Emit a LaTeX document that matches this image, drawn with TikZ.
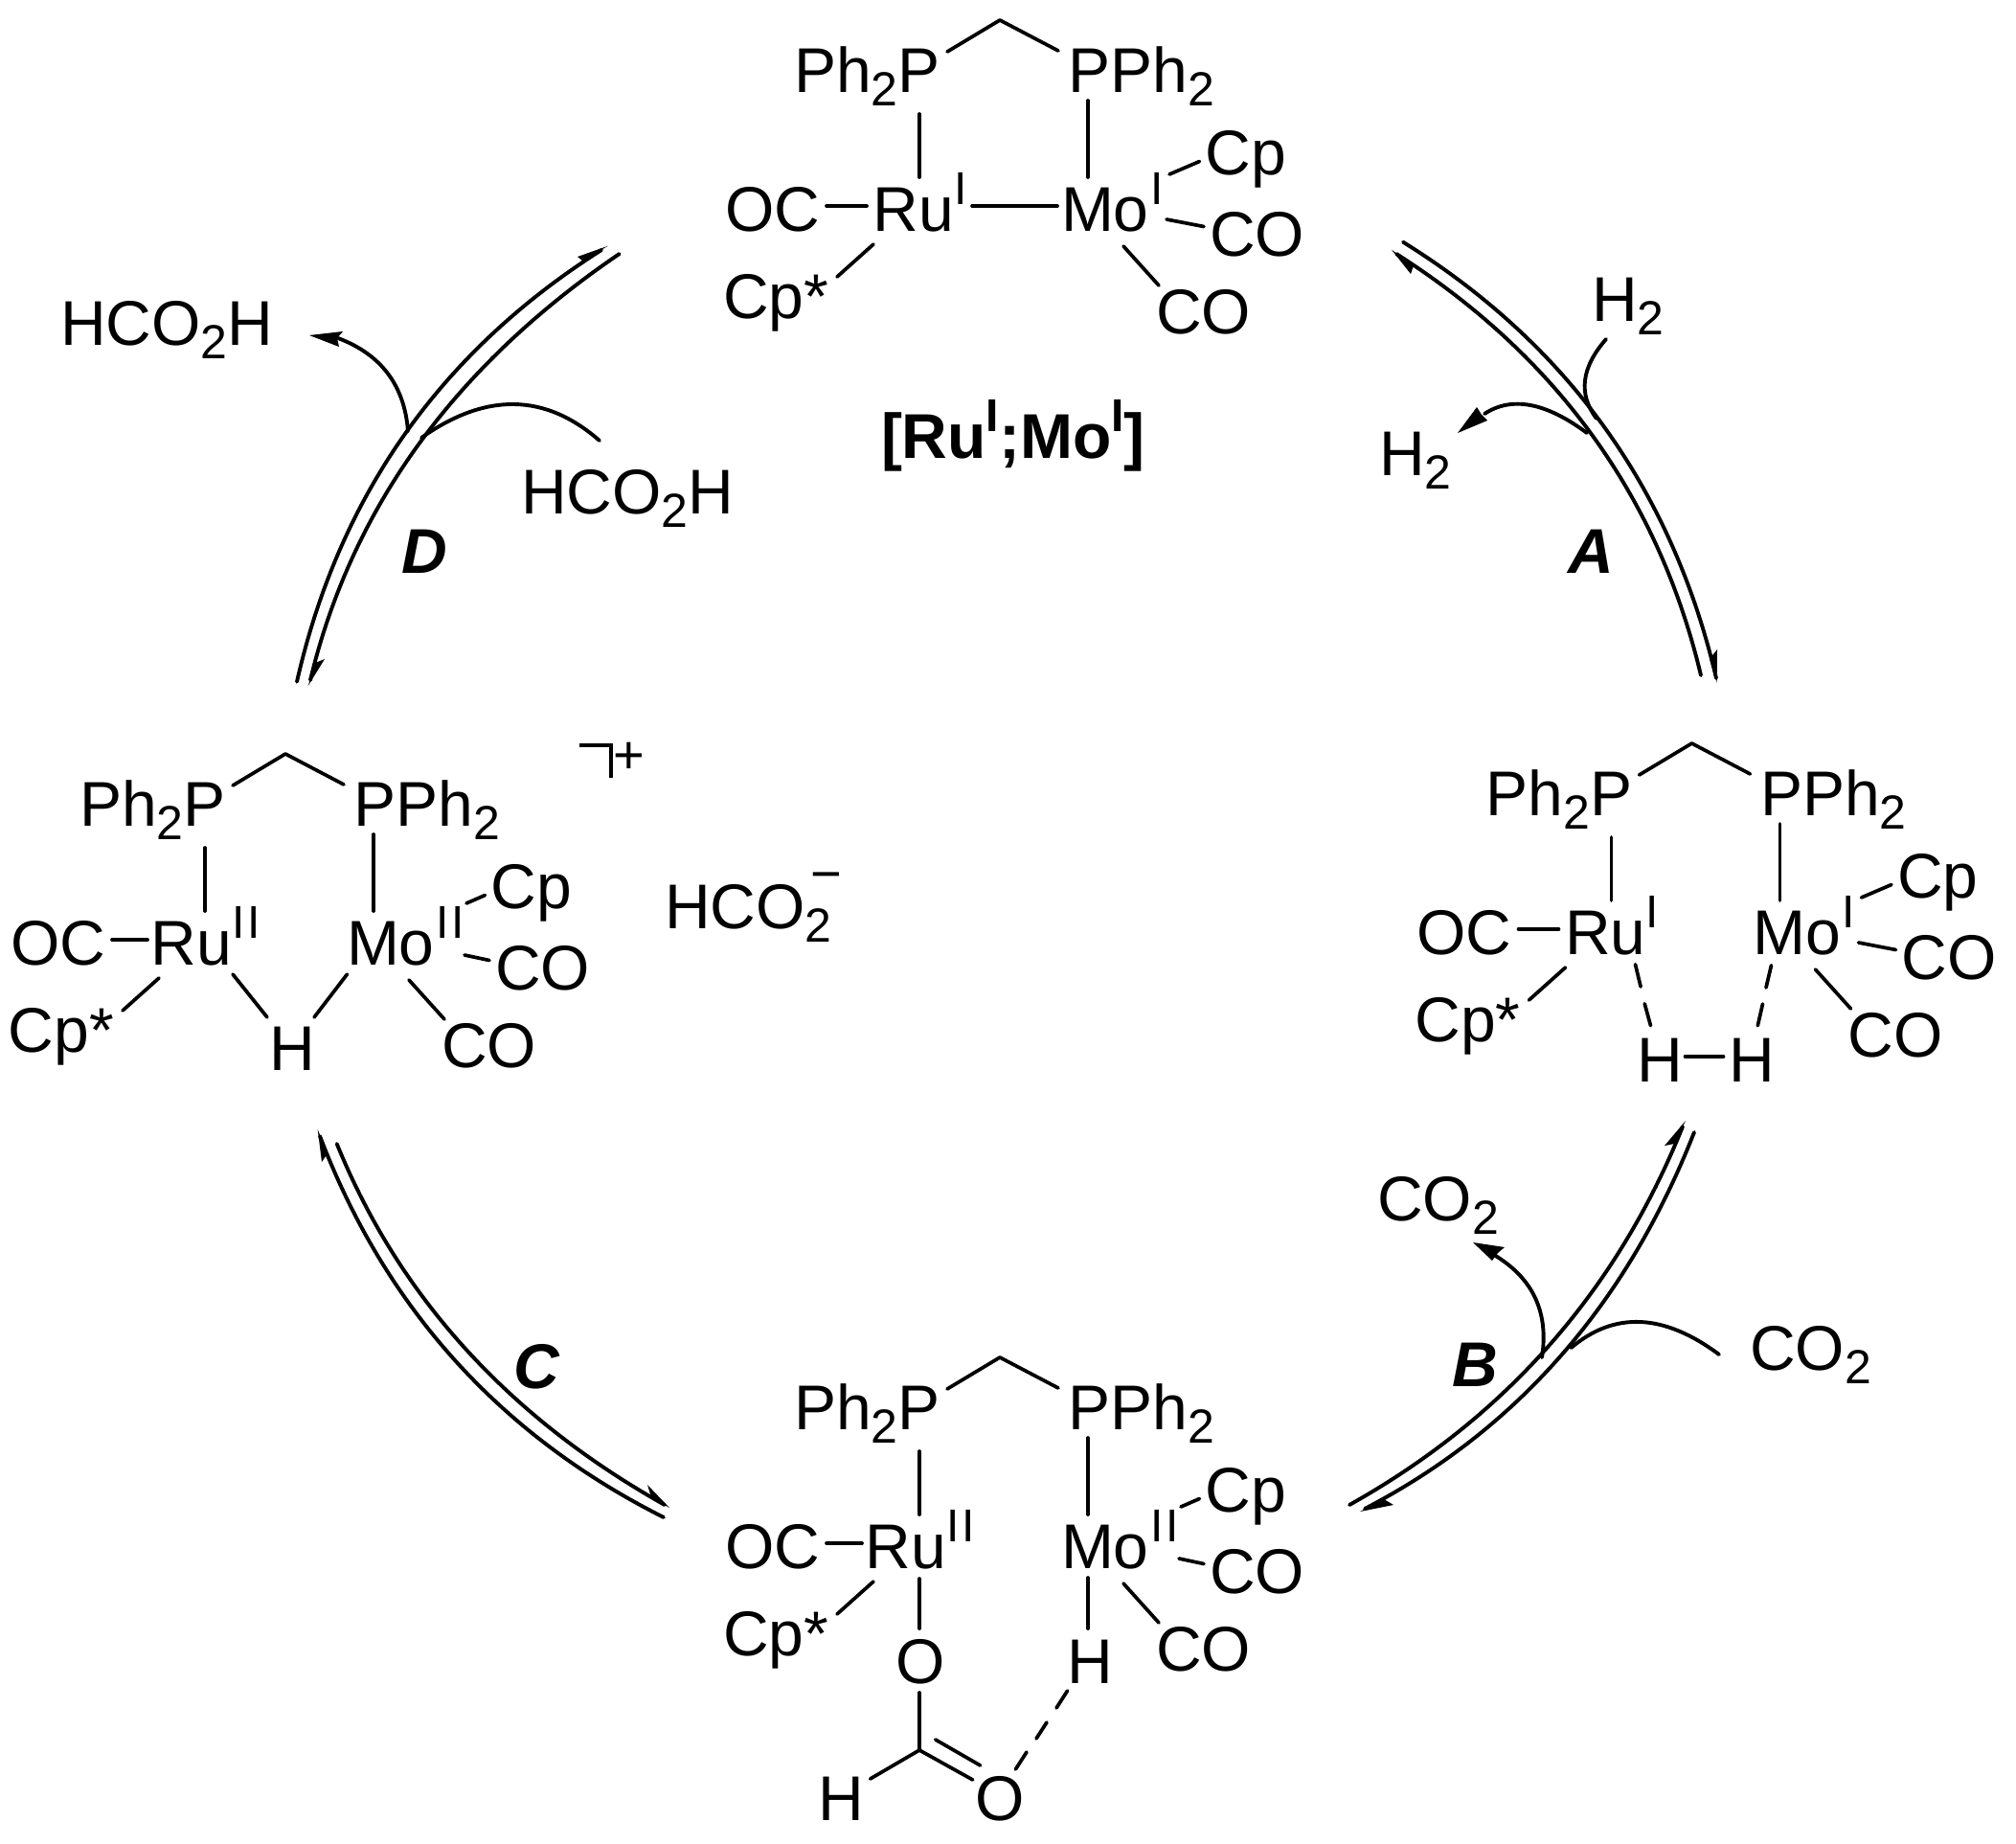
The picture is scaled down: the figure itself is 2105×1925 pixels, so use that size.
\documentclass[tikz,border=0pt]{standalone}
\usepackage{fontspec}
\usetikzlibrary{calc}
\setmainfont{Liberation Sans}
\newcommand{\subn}[1]{\raisebox{-14pt}{\fontsize{50}{50}\selectfont #1}}
\newcommand{\oxI}{I}
\newcommand{\oxII}{I\kern2.5pt I}
\tikzset{
  txt/.style={inner sep=0pt,outer sep=0pt,anchor=base west,font=\fontsize{66}{66}\selectfont},
  lbl/.style={inner sep=0pt,outer sep=0pt,anchor=base west,font=\fontsize{66}{66}\selectfont\bfseries\itshape},
  sup/.style={inner sep=0pt,outer sep=0pt,anchor=base,font=\fontsize{48}{48}\selectfont},
  bondline/.style={line width=3.7pt,line cap=round,line join=round},
  arcline/.style={line width=3.9pt,line cap=round},
}
\newcommand{\bond}[5]{\coordinate (#1a) at (#2,#3); \coordinate (#1b) at (#4,#5); \draw[bondline] (#1a) -- (#1b);}
% curve from #1 through #2 to #3
\newcommand{\qarc}[3]{%
  \coordinate (qa) at (#1); \coordinate (qm) at (#2); \coordinate (qb) at (#3);
  \coordinate (qq) at ($2*(qm)-0.5*(qa)-0.5*(qb)$);
  \draw[arcline] (qa) .. controls ($(qa)!2/3!(qq)$) and ($(qb)!2/3!(qq)$) .. (qb);}
% common part of the complex; oxidation-state dependent values come from \rux etc.
\newcommand{\molcommon}[1]{%
  \node[txt] (#1ph) at (829,96.7) {Ph\subn{2}P};
  \node[txt] (#1pph) at (1115.5,96.7) {PPh\subn{2}};
  \coordinate (#1ch) at (1044,21);
  \coordinate (#1chl) at (989,54);
  \coordinate (#1chr) at (1105,53);
  \draw[bondline] (#1chl) -- (#1ch) -- (#1chr);
  \bond{#1pr}{960}{119}{960}{185}
  \bond{#1pm}{1136}{105}{1136}{185}
  \node[txt] (#1oc) at (757,241) {OC};
  \bond{#1ocr}{863}{215}{\ocend}{215}
  \node[txt] (#1ru) at (\rux,241) {Ru};
  \node[sup] (#1ruox) at (\ruox,213) {\oxt};
  \node[txt] (#1mo) at (1108,241) {Mo};
  \node[sup] (#1moox) at (\moox,213) {\oxt};
  \node[txt] (#1cp) at (1258.6,182) {Cp};
  \bond{#1mcp}{\cpbx}{\cpby}{1252.5}{168.5}
  \node[txt] (#1coa) at (1263,267) {CO};
  \bond{#1mcoa}{\cobx}{\coby}{1257}{236.5}
  \node[txt] (#1cob) at (1207,348) {CO};
  \bond{#1mcob}{1173}{257}{1210}{298}
  \node[txt] (#1cps) at (755,332) {Cp*};
  \bond{#1rcps}{912}{255}{874}{289}
}
\newcommand{\molI}[1]{%
  \def\rux{911.5}\def\ocend{905}\def\ruox{1003}\def\moox{1208}\def\oxt{\oxI}%
  \def\cpbx{1221}\def\cpby{182}\def\cobx{1218}\def\coby{229}\molcommon{#1}}
\newcommand{\molII}[1]{%
  \def\rux{903.5}\def\ocend{900}\def\ruox{1003.5}\def\moox{1216.5}\def\oxt{\oxII}%
  \def\cpbx{1233}\def\cpby{177}\def\cobx{1231}\def\coby{231}\molcommon{#1}}
\newcommand{\head}[3]{\fill (#1) -- (#2) -- (#3) -- cycle;}
\begin{document}
\begin{tikzpicture}[x=1pt,y=-1pt]
\useasboundingbox (0,0) rectangle (2105,1925);
% top
\begin{scope}
  \molI{t}
  \bond{trm}{1015}{215}{1104}{215}
  \node[inner sep=0pt,outer sep=0pt,anchor=base west,font=\fontsize{66}{66}\selectfont\bfseries] (tname) at (920,478)
   {[Ru\raisebox{28pt}{\fontsize{48}{48}\selectfont I};Mo\raisebox{28pt}{\fontsize{48}{48}\selectfont I}]};
\end{scope}
% right
\begin{scope}[shift={(722.5,755)}]
  \molI{r}
  \bond{rda}{985}{251.7}{990.6}{275}
  \bond{rdb}{994.7}{292.7}{1001}{315.7}
  \bond{rdc}{1127}{252.7}{1121.5}{276}
  \bond{rdd}{1118}{293}{1112.8}{315.7}
  \node[txt] (rha) at (986.5,374) {H};
  \node[txt] (rhb) at (1082.5,374) {H};
  \bond{rhh}{1037}{348}{1077}{348}
\end{scope}
% left
\begin{scope}[shift={(-746,766)}]
  \molII{l}
  \bond{lrh}{989}{251}{1025}{296}
  \bond{lmh}{1108.5}{251}{1074}{296}
  \node[txt] (lh) at (1027,351) {H};
\end{scope}
\coordinate (brka) at (605,778); \coordinate (brkb) at (638,778); \coordinate (brkc) at (638,812);
\draw[line width=3.7pt] (brka) -- (brkb) -- (brkc);
\node[inner sep=0pt,outer sep=0pt,anchor=base west,font=\fontsize{56}{56}\selectfont] (plus) at (640,807.6) {+};
\node[txt] (formate) at (694,969) {HCO\subn{2}};
\node[inner sep=0pt,outer sep=0pt,anchor=base west,font=\fontsize{56}{56}\selectfont] (minus) at (846,931) {−};
% bottom
\begin{scope}[shift={(0,1396)}]
  \molII{b}
\end{scope}
\bond{bro}{960}{1648}{960}{1700}
\bond{bmh}{1136}{1647}{1136}{1700}
\node[txt] (bo) at (935,1757) {O};
\node[txt] (bh) at (1114,1757) {H};
\bond{boc}{960}{1767}{960}{1827}
\bond{bch}{960}{1827}{908.6}{1857}
\node[txt] (bhb) at (854.6,1900) {H};
\bond{bcoa}{960}{1827}{1015.7}{1858}
\bond{bcob}{976.7}{1816}{1023.6}{1843}
\node[txt] (bob) at (1018.4,1900) {O};
\bond{bda}{1060.4}{1847}{1072}{1829}
\bond{bdb}{1082}{1815}{1093}{1798}
\bond{bdc}{1103}{1783}{1114.6}{1765}
% small labels
\node[txt] (hfa) at (63,360) {HCO\subn{2}H};
\node[txt] (hfb) at (544,536) {HCO\subn{2}H};
\node[txt] (h2in) at (1662,335) {H\subn{2}};
\node[txt] (h2out) at (1440,496) {H\subn{2}};
\node[txt] (co2out) at (1438,1274) {CO\subn{2}};
\node[txt] (co2in) at (1827,1430) {CO\subn{2}};
\node[lbl] (la) at (1637,598) {A};
\node[lbl] (lb) at (1516,1447) {B};
\node[lbl] (lc) at (536,1449) {C};
\node[lbl] (ld) at (419,598) {D};
% arrow A
\qarc{1465,252.7}{1675.6,446.5}{1792,708}
\qarc{1458,265}{1663,455}{1776,705}
\head{1453,260.7}{1473,286}{1476,277}
\head{1792.7,713}{1793,678}{1785,688}
\qarc{1677,354}{1655,397}{1667,437}
\qarc{1657,452}{1598,423}{1550,432}
\fill (1522,452) -- (1542,425) -- (1547,433) -- (1553,439) -- cycle;
% arrow B
\qarc{1757,1176}{1618,1404}{1409,1571}
\qarc{1769,1182}{1630,1415}{1425,1575}
\head{1760,1170}{1738,1196}{1748,1194}
\head{1420,1578}{1455,1571}{1445,1565}
\qarc{1610,1417}{1603,1355}{1560,1310}
\fill (1538,1297) -- (1571,1302) -- (1564,1308) -- (1558,1316) -- cycle;
\qarc{1795,1414}{1713,1380}{1640.5,1407}
% arrow C
\qarc{334,1186}{475,1420}{693,1584}
\qarc{351.7,1194}{486,1408}{694,1571}
\head{331.7,1179}{336,1213}{342,1204}
\head{699,1574}{676,1550}{680,1563}
% arrow D
\qarc{628,261}{422.5,453.5}{310,711.7}
\qarc{646.7,265}{437,464}{324,710}
\head{635,256.7}{603,268}{608,272}
\head{321.7,716}{339,688}{329,692}
\qarc{426,450}{405,390}{353,353}
\fill (323,350) -- (358,346) -- (352,353) -- (354,362) -- cycle;
\qarc{626,460}{537,422}{440,457}
\end{tikzpicture}
\end{document}
